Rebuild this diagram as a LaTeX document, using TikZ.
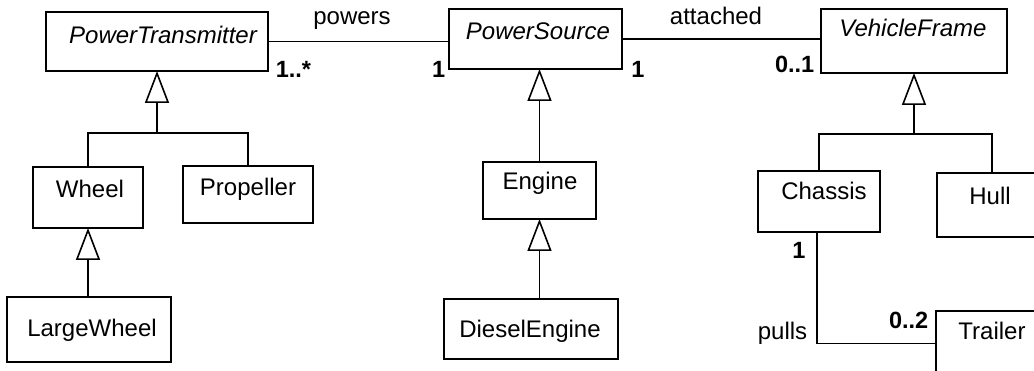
\documentclass[tikz,border=0pt]{standalone}
\usepackage{fontspec}
\setmainfont{Liberation Sans}
\usetikzlibrary{arrows.meta}
\begin{document}
\begin{tikzpicture}[x=1pt,y=-1pt,
  line width=1.6pt,
  cls/.style={draw, line width=1.6pt, inner sep=0pt, outer sep=0pt},
  txt/.style={anchor=base, inner sep=0pt, font=\fontsize{24}{28}\selectfont},
  mult/.style={txt, font=\fontsize{23.5}{28}\selectfont\bfseries},
  gen/.style={-{Triangle[open, length=32pt, width=24pt, line width=1.6pt]}},
]
\clip (0,0) rectangle (1034,371);
\fill[white] (0,0) rectangle (1034,371);

% class boxes
\node[cls, minimum width=222pt, minimum height=59pt] (pt) at (157,41.5) {};
\node[cls, minimum width=173pt, minimum height=60pt] (ps) at (535.5,39) {};
\node[cls, minimum width=186pt, minimum height=64pt] (vf) at (914,41) {};
\node[cls, minimum width=110pt, minimum height=61pt] (wheel) at (88,197.5) {};
\node[cls, minimum width=130pt, minimum height=57pt] (prop) at (248,194.5) {};
\node[cls, minimum width=164pt, minimum height=65pt] (lw) at (89,329.5) {};
\node[cls, minimum width=113pt, minimum height=57pt] (eng) at (539.5,190.5) {};
\node[cls, minimum width=174pt, minimum height=60pt] (de) at (531,329) {};
\node[cls, minimum width=122pt, minimum height=61pt] (ch) at (819,201.5) {};
\node[cls, minimum width=110pt, minimum height=64pt] (hull) at (992,205) {};
\node[cls, minimum width=112pt, minimum height=65pt] (tr) at (992,343.5) {};

% class names
\node[txt] (ptn) at (163,44) {\itshape PowerTransmitter};
\node[txt] (psn) at (538,40) {\itshape PowerSource};
\node[txt] (vfn) at (913,37) {\itshape VehicleFrame};
\node[txt] (wheeln) at (90,198) {Wheel};
\node[txt] (propn) at (248,196) {Propeller};
\node[txt] (lwn) at (92,337) {LargeWheel};
\node[txt] (engn) at (540,190) {Engine};
\node[txt] (den) at (530,338) {DieselEngine};
\node[txt] (chn) at (824,200) {Chassis};
\node[txt] (hulln) at (990,205) {Hull};
\node[txt] (trn) at (992,340) {Trailer};

% generalizations
\coordinate (ptj) at (157,133);
\draw (wheel.north) |- (ptj);
\draw (prop.north) |- (ptj);
\draw[gen] (ptj) -- (pt.south);

\draw[gen] (lw.north -| wheel.south) -- (wheel.south);

\draw[gen] (eng.north) -- (eng.north |- ps.south);
\draw[gen] (de.north -| eng.south) -- (eng.south);

\coordinate (vfj) at (914,134);
\draw (ch.north) |- (vfj);
\draw (hull.north) |- (vfj);
\draw[gen] (vfj) -- (vf.south);

% associations
\draw (pt.east) -- (pt.east -| ps.west);
\node[txt] (powers) at (352,25) {powers};
\node[mult, anchor=base west] (m1) at (275,78) {1..*};
\node[mult, anchor=base east] (m2) at (446,78) {1};

\draw (ps.east) -- (ps.east -| vf.west);
\node[txt] (attached) at (716,25) {attached};
\node[mult] (m3) at (638,78) {1};
\node[mult, anchor=base east] (m4) at (815,73) {0..1};

\draw ([xshift=-2pt]ch.south) |- (tr.west);
\node[mult] (m5) at (799,259) {1};
\node[txt, anchor=base east] (pulls) at (808,340) {pulls};
\node[mult, anchor=base east] (m6) at (929,329) {0..2};
\end{tikzpicture}
\end{document}
